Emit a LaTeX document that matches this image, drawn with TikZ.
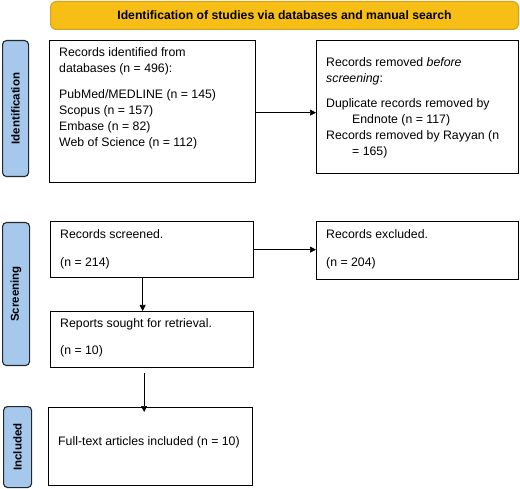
\documentclass[tikz,border=0pt]{standalone}
\usepackage{fontspec}
\setmainfont{Liberation Sans}
\usetikzlibrary{arrows.meta,calc}
\definecolor{bannerfill}{HTML}{F7BE16}
\definecolor{bannerdraw}{HTML}{D49F1C}
\definecolor{sidefill}{HTML}{A6C8EC}
\begin{document}
\begin{tikzpicture}[x=1pt,y=1pt,
 box/.style={draw=black,line width=1.3pt,anchor=north west,inner sep=0pt},
 txt/.style={anchor=north west,align=left,inner sep=0pt,font=\fontsize{12.3}{16}\selectfont},
 side/.style={draw=black!85,fill=sidefill,rounded corners=4pt,line width=1.1pt,anchor=north west,inner sep=0pt},
 sidetxt/.style={rotate=90,inner sep=0pt,font=\fontsize{11.5}{13}\selectfont\bfseries},
 banner/.style={draw=bannerdraw,fill=bannerfill,rounded corners=6pt,line width=1pt,anchor=north west,inner sep=0pt},
 arr/.style={-{Triangle[length=6pt,width=6pt]},line width=0.7pt}]
\useasboundingbox (0,0) rectangle (520,-489);

% banner
\node[banner,minimum width=468pt,minimum height=28pt] (ban) at (50,-1) {};
\node[inner sep=0pt,font=\fontsize{12.2}{14}\selectfont\bfseries] (bantxt) at (ban.center) {Identification of studies via databases and manual search};

% side labels
\node[side,minimum width=26pt,minimum height=136pt] (s1) at (2,-40) {};
\node[sidetxt] (s1t) at (s1.center) {Identification};
\node[side,minimum width=27pt,minimum height=143pt] (s2) at (2,-222) {};
\node[sidetxt] (s2t) at (s2.center) {Screening};
\node[side,minimum width=28pt,minimum height=81pt] (s3) at (3,-406) {};
\node[sidetxt] (s3t) at (s3.center) {Included};

% boxes
\node[box,minimum width=206pt,minimum height=142pt] (b1) at (49,-40) {};
\node[txt] (t1) at (59,-47.5) {Records identified from\\ databases (n = 496):\\[10pt] PubMed/MEDLINE (n = 145)\\ Scopus (n = 157)\\ Embase (n = 82)\\ Web of Science (n = 112)};

\node[box,minimum width=202pt,minimum height=133pt] (b2) at (316,-40) {};
\node[txt] (t2) at (326,-57.5) {Records removed \textit{before}\\ \textit{screening}:\\[9pt] Duplicate records removed by\\ \hspace*{26pt}Endnote (n = 117)\\ Records removed by Rayyan (n\\ \hspace*{26pt}= 165)};

\node[box,minimum width=203pt,minimum height=56pt] (b3) at (50,-221) {};
\node[txt] (t3) at (60,-229.5) {Records screened.\\[12pt] (n = 214)};

\node[box,minimum width=202pt,minimum height=58pt] (b4) at (316,-221) {};
\node[txt] (t4) at (326,-229.5) {Records excluded.\\[12pt] (n = 204)};

\node[box,minimum width=203pt,minimum height=56pt] (b5) at (50,-311) {};
\node[txt] (t5) at (60,-318.5) {Reports sought for retrieval.\\[11pt] (n = 10)};

\node[box,minimum width=204pt,minimum height=78pt] (b6) at (48,-407) {};
\node[txt] (t6) at (58,-436.5) {Full-text articles included (n = 10)};

% arrows
\draw[arr] ([yshift=-1pt]b1.east) -- ([yshift=-1pt]b1.east -| b2.west);
\draw[arr] (b3.east) -- (b3.east -| b4.west);
\draw[arr] ([xshift=-9.5pt]b3.south) -- ([xshift=-9.5pt]b3.south |- b5.north);
\draw[arr] ([xshift=-8pt,yshift=-5pt]b5.south) -- ([xshift=-8pt,yshift=-5pt]b5.south |- b6.north);
\end{tikzpicture}
\end{document}
